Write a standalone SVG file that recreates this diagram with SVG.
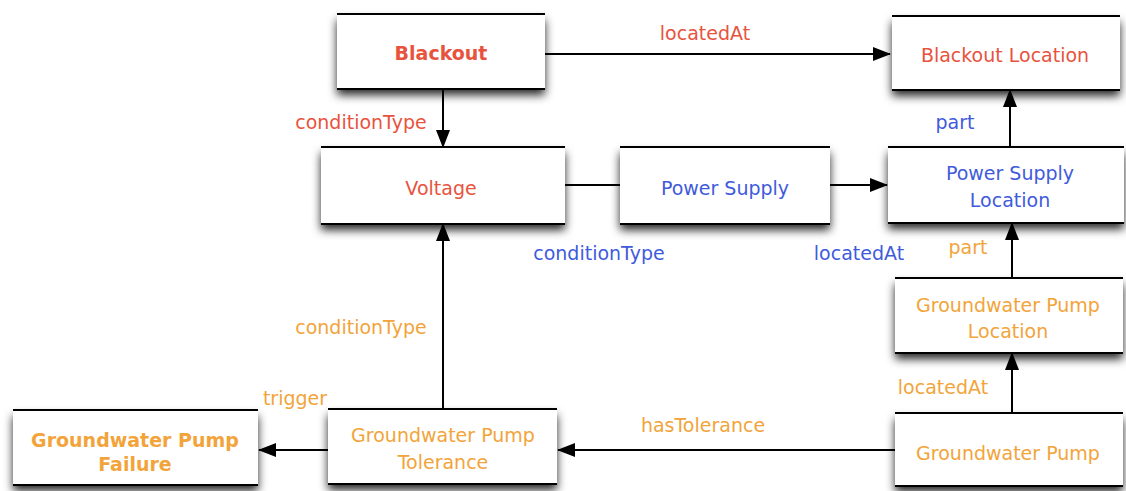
<svg xmlns="http://www.w3.org/2000/svg" width="1126" height="491" viewBox="0 0 1126 491">
<style>
.box{fill:#fff;filter:url(#sh)}
.edge{stroke:#000;stroke-width:2}
.t{font-family:"DejaVu Sans",sans-serif;font-size:19px;text-anchor:middle}
.lbl{font-family:"DejaVu Sans",sans-serif;font-size:19px;text-anchor:middle}
.b{font-weight:bold}
.red{fill:#e8533d}
.blue{fill:#3f5bdc}
.or{fill:#f2a43a}
.conn{stroke:#000;stroke-width:2;fill:none}
</style>
<defs>
<filter id="sh" x="-10%" y="-20%" width="120%" height="160%">
<feDropShadow dx="0" dy="6" stdDeviation="5" flood-color="#000" flood-opacity="0.85"/>
</filter>
<marker id="arr" markerUnits="userSpaceOnUse" markerWidth="18" markerHeight="14" refX="17" refY="7" orient="auto">
<path d="M0,0 L18,7 L0,14 Z" fill="#000"/>
</marker>
</defs>
<rect width="1126" height="491" fill="#fff"/>
<g id="connectors">
<line class="conn" x1="545" y1="54" x2="890" y2="54" marker-end="url(#arr)"/>
<line class="conn" x1="443" y1="89" x2="443" y2="147" marker-end="url(#arr)"/>
<line class="conn" x1="565" y1="185" x2="620" y2="185"/>
<line class="conn" x1="830" y1="185" x2="887" y2="185" marker-end="url(#arr)"/>
<line class="conn" x1="1010" y1="147" x2="1010" y2="90" marker-end="url(#arr)"/>
<line class="conn" x1="1012" y1="278" x2="1012" y2="223" marker-end="url(#arr)"/>
<line class="conn" x1="1012" y1="413" x2="1012" y2="353" marker-end="url(#arr)"/>
<line class="conn" x1="895" y1="450" x2="558" y2="450" marker-end="url(#arr)"/>
<line class="conn" x1="443" y1="409" x2="443" y2="224" marker-end="url(#arr)"/>
<line class="conn" x1="328" y1="450" x2="259" y2="450" marker-end="url(#arr)"/>
<text class="lbl red" x="705" y="40">locatedAt</text>
<text class="lbl red" x="361" y="129">conditionType</text>
<text class="lbl blue" x="955" y="129">part</text>
<text class="lbl blue" x="599" y="260">conditionType</text>
<text class="lbl blue" x="859" y="260">locatedAt</text>
<text class="lbl or" x="968" y="254">part</text>
<text class="lbl or" x="361" y="334">conditionType</text>
<text class="lbl or" x="943" y="394">locatedAt</text>
<text class="lbl or" x="295" y="405">trigger</text>
<text class="lbl or" x="703" y="432">hasTolerance</text>
</g>
<g id="blackout">
<rect class="box" x="337" y="14" width="208" height="75"/>
<line class="edge" x1="337" y1="14" x2="545" y2="14"/><line class="edge" x1="337" y1="89" x2="545" y2="89"/>
<text class="t b red" x="441" y="60">Blackout</text>
</g>
<g id="blackout-location">
<rect class="box" x="892" y="16" width="228" height="74"/>
<line class="edge" x1="892" y1="16" x2="1120" y2="16"/><line class="edge" x1="892" y1="90" x2="1120" y2="90"/>
<text class="t red" x="1005" y="62">Blackout Location</text>
</g>
<g id="voltage">
<rect class="box" x="321" y="147" width="244" height="77"/>
<line class="edge" x1="321" y1="147" x2="565" y2="147"/><line class="edge" x1="321" y1="224" x2="565" y2="224"/>
<text class="t red" x="441" y="195">Voltage</text>
</g>
<g id="power-supply">
<rect class="box" x="620" y="147" width="210" height="77"/>
<line class="edge" x1="620" y1="147" x2="830" y2="147"/><line class="edge" x1="620" y1="224" x2="830" y2="224"/>
<text class="t blue" x="725" y="195">Power Supply</text>
</g>
<g id="power-supply-location">
<rect class="box" x="888" y="147" width="236" height="76"/>
<line class="edge" x1="888" y1="147" x2="1124" y2="147"/><line class="edge" x1="888" y1="223" x2="1124" y2="223"/>
<text class="t blue" x="1010" y="180">Power Supply</text>
<text class="t blue" x="1010" y="207">Location</text>
</g>
<g id="groundwater-pump-location">
<rect class="box" x="895" y="278" width="228" height="75"/>
<line class="edge" x1="895" y1="278" x2="1123" y2="278"/><line class="edge" x1="895" y1="353" x2="1123" y2="353"/>
<text class="t or" x="1008" y="312">Groundwater Pump</text>
<text class="t or" x="1008" y="338">Location</text>
</g>
<g id="groundwater-pump">
<rect class="box" x="895" y="413" width="228" height="73"/>
<line class="edge" x1="895" y1="413" x2="1123" y2="413"/><line class="edge" x1="895" y1="486" x2="1123" y2="486"/>
<text class="t or" x="1008" y="460">Groundwater Pump</text>
</g>
<g id="groundwater-pump-tolerance">
<rect class="box" x="328" y="409" width="229" height="75"/>
<line class="edge" x1="328" y1="409" x2="557" y2="409"/><line class="edge" x1="328" y1="484" x2="557" y2="484"/>
<text class="t or" x="443" y="442">Groundwater Pump</text>
<text class="t or" x="443" y="469">Tolerance</text>
</g>
<g id="groundwater-pump-failure">
<rect class="box" x="13" y="410" width="245" height="75"/>
<line class="edge" x1="13" y1="410" x2="258" y2="410"/><line class="edge" x1="13" y1="485" x2="258" y2="485"/>
<text class="t b or" x="135" y="447">Groundwater Pump</text>
<text class="t b or" x="135" y="471">Failure</text>
</g>
</svg>
